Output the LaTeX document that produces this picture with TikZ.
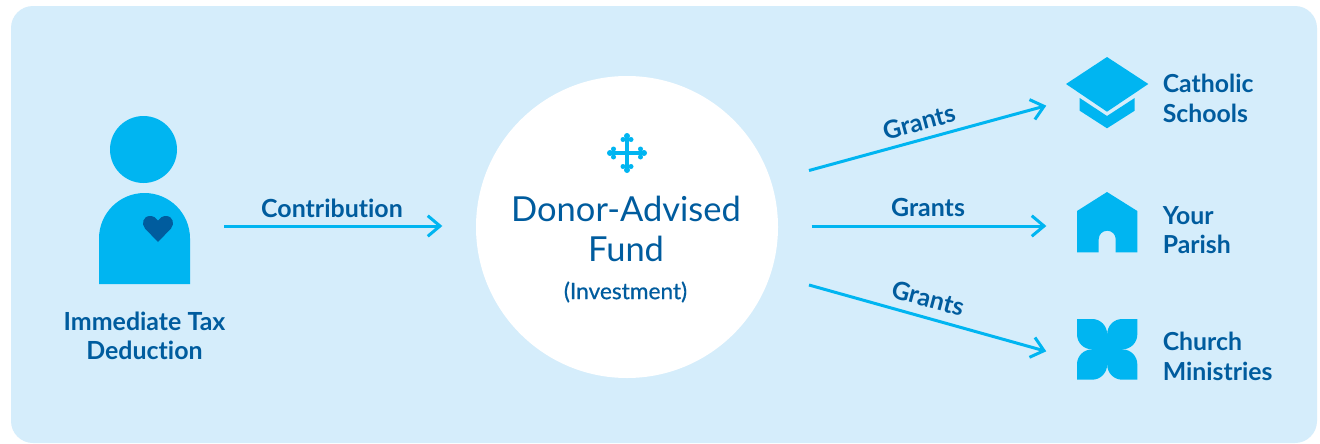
\documentclass[tikz,border=0pt]{standalone}
\usepackage{fontspec}
\usetikzlibrary{calc}
\setmainfont{Lato}[Ligatures=NoCommon]
\definecolor{panelblue}{HTML}{D5EDFB}
\definecolor{cyanblue}{HTML}{00B5F1}
\definecolor{deepblue}{HTML}{005C9E}
\tikzset{
  flow/.style={draw=cyanblue,line width=2.25pt,line cap=butt},
  chevron/.style={draw=cyanblue,line width=2.25pt},
  iconfill/.style={fill=cyanblue,draw=none},
  lab/.style={text=deepblue,font=\fontsize{18.7pt}{18.7pt}\selectfont\bfseries,inner sep=0pt,align=center},
  side/.style={text=deepblue,font=\fontsize{18.6pt}{22pt}\selectfont\bfseries,inner sep=0pt,align=left,anchor=west},
}
\begin{document}
\begin{tikzpicture}[x=0.75pt,y=-0.75pt]
\useasboundingbox (0,0) rectangle (1320,443);
\fill[white] (0,0) rectangle (1320,443);
\fill[panelblue,rounded corners=16.5pt] (11,6) rectangle (1317,443);
\node[circle,fill=white,minimum size=226.5pt,inner sep=0pt] (fund) at (627,227) {};
% person
\node[circle,iconfill,minimum size=50.25pt,inner sep=0pt] (head) at (143.5,149.5) {};
\fill[cyanblue] (99,284) -- (99,238.5) arc[start angle=180,end angle=0,x radius=45.5,y radius=-45.5] -- (190,284) -- cycle;
\fill[deepblue] (158,242) -- (145,228.5) .. controls (141,224) and (143,216) .. (150,216) .. controls (153.5,216) and (156.5,218) .. (158,220.5)
  .. controls (159.5,218) and (162.5,216) .. (166,216) .. controls (173,216) and (175,224) .. (171,228.5) -- cycle;
\node[lab] (donor) at (144.5,335.5) {Immediate Tax\\[3pt]Deduction};
% labels
\node[lab] (contrib) at (332,208) {Contribution};
\node[text=deepblue,inner sep=0pt,font=\fontsize{25.85pt}{25.85pt}\selectfont] (dtitle) at (626,209) {Donor-Advised};
\node[text=deepblue,inner sep=0pt,font=\fontsize{25.85pt}{25.85pt}\selectfont] (dfund) at (626,249) {Fund};
\node[text=deepblue,inner sep=0pt,font=\fontsize{17pt}{17pt}\selectfont\addfontfeature{FakeBold=0.6}] (dinv) at (625.5,292) {(Investment)};
% cross
\begin{scope}[shift={(627,153)}]
\fill[cyanblue] (-1.7,-17) rectangle (1.7,17);
\fill[cyanblue] (-17,-1.7) rectangle (17,1.7);
\foreach \a in {0,90,180,270}{
  \begin{scope}[rotate=\a]
  \fill[cyanblue] (0,-17) circle[radius=3];
  \fill[cyanblue] (-4,-13.5) circle[radius=2.5];
  \fill[cyanblue] (4,-13.5) circle[radius=2.5];
  \end{scope}
}
\end{scope}
% connectors
\coordinate (c1) at (224,226);
\coordinate (c2) at (440,226);
\coordinate (g1a) at (809,170.5);
\coordinate (g1b) at (1044,106.3);
\coordinate (g2a) at (811.5,226);
\coordinate (g2b) at (1044,226);
\coordinate (g3a) at (809,285);
\coordinate (g3b) at (1044,350.7);
\foreach \p/\q in {c1/c2,g1a/g1b,g2a/g2b,g3a/g3b}{
  \draw[flow] (\p) -- (\q);
  \draw[chevron] ($(\q)!12pt!-40:(\p)$) -- (\q) -- ($(\q)!12pt!40:(\p)$);
}
\node[lab,rotate=15] (g1) at (919,122) {Grants};
\node[lab] (g2) at (928,207.5) {Grants};
\node[lab,rotate=-15] (g3) at (928,298) {Grants};
% cap
\fill[cyanblue] (1066,84) -- (1107,57) -- (1148.3,84) -- (1107,111.7) -- cycle;
\fill[cyanblue] (1079.7,98) -- (1107,116) -- (1134.7,98) -- (1134.7,110.7) -- (1107,128.3) -- (1079.7,110.7) -- cycle;
% house
\fill[cyanblue] (1077,252.3) -- (1077,211) -- (1107,192) -- (1137.3,211) -- (1137.3,252.3) -- (1115.7,252.3) -- (1115.7,239.2) arc[start angle=0,end angle=180,x radius=8.5,y radius=-8.5] -- (1098.7,252.3) -- cycle;
% flower
\begin{scope}[shift={(1107.15,349.35)}]
\foreach \sx/\sy in {1/1,-1/1,1/-1,-1/-1}{
  \begin{scope}[xscale=\sx,yscale=\sy]
  \fill[cyanblue] (-30.15,-30.35) -- (-15,-30.35) .. controls (-6.7,-30.35) and (0,-23.6) .. (0,-15) -- (0,1) -- (-15,1) -- (-15,0) .. controls (-23.6,0) and (-30.15,-6.7) .. (-30.15,-15) -- cycle;
  \fill[cyanblue] (-15,0) rectangle (1,1);
  \end{scope}
}
\end{scope}
\node[side] (cath) at (1162.5,98.5) {Catholic\\Schools};
\node[side] (par) at (1162.5,230) {Your\\Parish};
\node[side] (min) at (1162.5,356.5) {Church\\Ministries};
\end{tikzpicture}
\end{document}
